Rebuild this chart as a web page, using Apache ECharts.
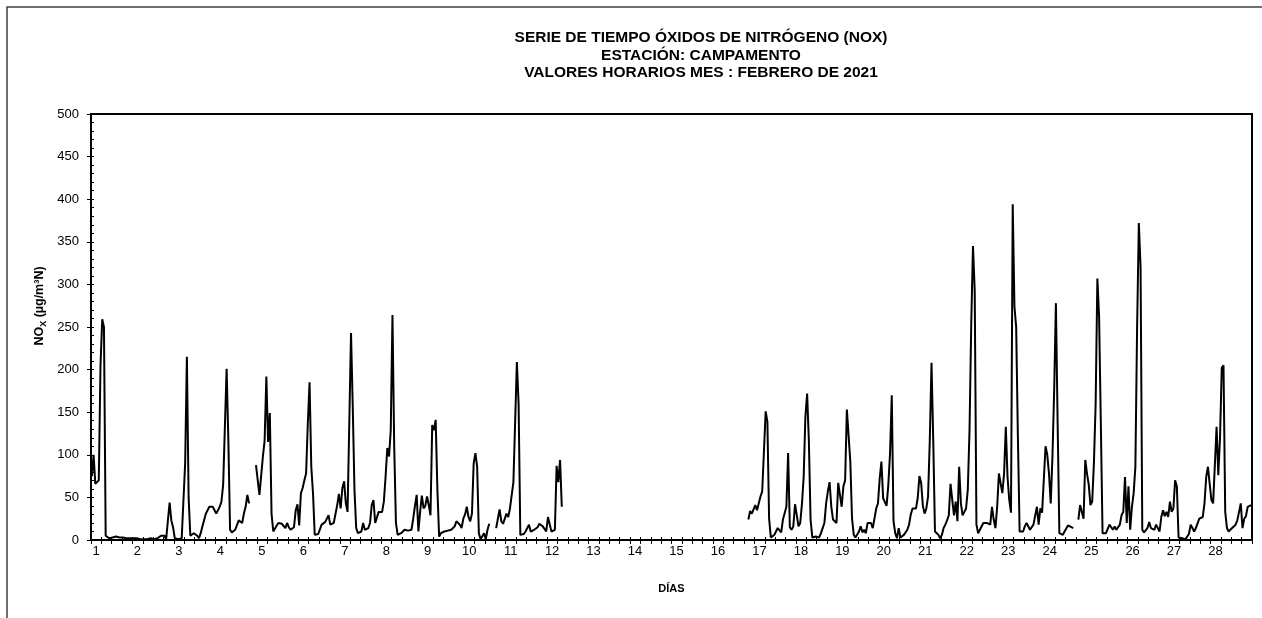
<!DOCTYPE html>
<html><head><meta charset="utf-8">
<script src="https://cdn.jsdelivr.net/npm/echarts@6/dist/echarts.min.js"></script>
<style>html,body{margin:0;padding:0;background:#fff}#c{width:1262px;height:618px}</style>
</head><body><div id="c"></div>
<script>
// ---- text ----
const titleLines = ['SERIE DE TIEMPO ÓXIDOS DE NITRÓGENO (NOX)', 'ESTACIÓN: CAMPAMENTO', 'VALORES HORARIOS MES : FEBRERO DE 2021'];
const xName = 'DÍAS';
const hoursPerDay = 24;
const nDays = 28;
const yTicks = [0, 50, 100, 150, 200, 250, 300, 350, 400, 450, 500];

// ---- hourly NOx values (µg/m³N), one array per day, hours 0..23 ----
const N = null;
const day01 = [75,100,66,65,70,205,259,250,5,3,2,4,3,2,4,3,3,2,3,2,2,3,2,2];
const day02 = [2,1,2,1,1,2,1,1,1,1,2,1,1,1,2,2,5,6,5,1,3,44,23,15];
const day03 = [2,1,1,1,2,3,90,215,50,5,3,8,6,5,2,8,16,17,31,30,39,37,39,35];
const day04 = [31,33,39,45,65,66,201,117,12,9,8,12,12,23,21,20,31,39,53,43,N,N,N,88];
const day05 = [88,53,51,98,117,192,115,149,31,10,11,17,20,19,19,17,14,20,15,12,10,15,35,42];
const day06 = [17,55,61,70,78,137,185,86,55,6,6,7,7,18,18,21,20,29,18,20,20,22,41,54];
const day07 = [37,61,69,43,33,137,243,157,59,14,8,6,10,20,12,13,14,20,41,47,20,20,33,33];
const day08 = [33,45,74,108,98,129,264,110,20,6,7,8,10,12,10,11,11,12,25,40,53,10,33,52];
const day09 = [37,40,51,41,29,135,129,141,59,4,8,9,10,11,11,12,12,14,16,22,24,18,14,25];
const day10 = [30,39,27,22,31,90,102,86,8,1,0,8,1,12,19,N,N,N,14,25,36,22,19,19];
const day11 = [31,27,37,37,68,67,209,160,6,4,7,10,10,18,10,12,12,12,15,19,18,16,14,10];
const day12 = [27,27,10,10,12,87,68,94,39,N,N,N,N,N,N,N,N,N,N,N,N,N,N,N];
const day13 = [N,N,N,N,N,N,N,N,N,N,N,N,N,N,N,N,N,N,N,N,N,N,N,N];
const day14 = [N,N,N,N,N,N,N,N,N,N,N,N,N,N,N,N,N,N,N,N,N,N,N,N];
const day15 = [N,N,N,N,N,N,N,N,N,N,N,N,N,N,N,N,N,N,N,N,N,N,N,N];
const day16 = [N,N,N,N,N,N,N,N,N,N,N,N,N,N,N,N,N,N,N,N,24,34,31,36];
const day17 = [41,35,36,51,57,59,151,139,25,3,3,6,8,14,12,9,24,25,39,102,15,12,16,42];
const day18 = [42,16,20,42,74,145,172,117,24,3,2,4,6,3,8,14,20,43,57,68,39,24,22,20];
const day19 = [67,66,39,63,70,153,151,92,25,6,3,5,10,16,9,12,8,20,22,20,14,12,37,43];
const day20 = [72,92,49,47,40,65,102,170,22,8,2,14,3,3,6,8,12,18,30,37,37,37,49,75];
const day21 = [67,40,31,37,51,117,208,117,10,8,6,2,6,14,18,23,29,66,66,29,45,22,86,43];
const day22 = [29,29,37,59,129,254,345,293,18,8,12,14,20,22,20,20,18,39,24,14,39,78,76,55];
const day23 = [78,133,74,47,32,394,274,250,121,10,8,10,16,20,18,12,14,18,20,39,18,37,32,33];
const day24 = [110,100,78,43,98,176,278,137,8,6,6,10,12,17,16,15,14,N,N,24,41,43,25,94];
const day25 = [78,65,41,45,90,160,307,262,137,8,6,8,6,18,16,12,16,12,12,18,29,33,74,20];
const day26 = [63,12,39,55,86,250,372,320,12,9,11,14,21,14,14,12,18,20,10,27,35,28,33,27];
const day27 = [45,33,37,70,63,3,2,2,1,1,2,7,18,14,10,14,16,25,25,27,43,74,86,66];
const day28 = [47,43,41,133,76,121,202,205,33,14,10,12,14,16,18,23,25,43,14,25,28,39,41,41];

const days = [day01,day02,day03,day04,day05,day06,day07,day08,day09,day10,day11,day12,day13,day14,
              day15,day16,day17,day18,day19,day20,day21,day22,day23,day24,day25,day26,day27,day28];
const hourly = [].concat(...days);
const seriesData = hourly.map((v, i) => [i + 0.5, v]);

const FONT = '"Liberation Sans", Arial, Helvetica, sans-serif';
const totalHours = hoursPerDay * nDays;

const chart = echarts.init(document.getElementById('c'), null, {renderer: 'canvas'});
chart.setOption({
  animation: false,
  backgroundColor: '#ffffff',
  grid: {left: 91, right: 10, top: 114, bottom: 78, show: true, borderColor: '#000', borderWidth: 2, backgroundColor: 'transparent'},
  xAxis: [{
    type: 'value', min: 0, max: totalHours, interval: 6,
    axisLine: {show: true, onZero: false, lineStyle: {color: '#000', width: 2}},
    axisTick: {show: true, length: 4, lineStyle: {color: '#000', width: 1}},
    axisLabel: {show: true, fontFamily: FONT, fontSize: 13, color: '#000', margin: 5, padding: [0, 0, 0, 10],
      formatter: v => (v % hoursPerDay === 0 && v < totalHours) ? String(v / hoursPerDay + 1) : ''},
    splitLine: {show: false},
    name: xName, nameLocation: 'middle', nameGap: 43,
    nameTextStyle: {fontFamily: FONT, fontWeight: 'bold', fontSize: 11, color: '#000'}
  }, {
    type: 'value', min: 0, max: totalHours, interval: 6, position: 'bottom',
    axisLine: {show: false}, axisTick: {show: true, inside: true, length: 3, lineStyle: {color: '#000', width: 1}},
    axisLabel: {show: false}, splitLine: {show: false}
  }],
  yAxis: [{
    type: 'value', min: yTicks[0], max: yTicks[yTicks.length - 1], interval: 50,
    axisLine: {show: true, onZero: false, lineStyle: {color: '#000', width: 2}},
    axisTick: {show: true, length: 4, lineStyle: {color: '#000', width: 1}},
    axisLabel: {show: true, fontFamily: FONT, fontSize: 13, color: '#000', margin: 12},
    splitLine: {show: false}
  }, {
    type: 'value', min: yTicks[0], max: yTicks[yTicks.length - 1], interval: 10, position: 'left',
    axisLine: {show: false}, axisTick: {show: true, inside: true, length: 3, lineStyle: {color: '#000', width: 1}},
    axisLabel: {show: false}, splitLine: {show: false}
  }],
  series: [{
    type: 'line', xAxisIndex: 0, yAxisIndex: 0, data: seriesData,
    symbol: 'none', showSymbol: false, connectNulls: false,
    lineStyle: {color: '#000', width: 2}, itemStyle: {color: '#000'}
  }],
  graphic: [
    {type: 'rect', silent: true, shape: {x: 7, y: 7, width: 1320, height: 700},
     style: {fill: 'none', stroke: '#404040', lineWidth: 1.5}},
    {type: 'text', x: 701, y: 38, style: {text: titleLines[0], fontFamily: FONT, fontWeight: 'bold', fontSize: 15.5, fill: '#000', textAlign: 'center', textVerticalAlign: 'middle'}},
    {type: 'text', x: 701, y: 56, style: {text: titleLines[1], fontFamily: FONT, fontWeight: 'bold', fontSize: 15.5, fill: '#000', textAlign: 'center', textVerticalAlign: 'middle'}},
    {type: 'text', x: 701, y: 73, style: {text: titleLines[2], fontFamily: FONT, fontWeight: 'bold', fontSize: 15.5, fill: '#000', textAlign: 'center', textVerticalAlign: 'middle'}},
    {type: 'text', x: 40, y: 306, rotation: Math.PI / 2,
     style: {text: '{a|NO}{b|X}{a| (µg/m³N)}', textAlign: 'center', textVerticalAlign: 'middle', fill: '#000',
       rich: {a: {fontFamily: FONT, fontWeight: 'bold', fontSize: 12.5, lineHeight: 16, verticalAlign: 'middle', fill: '#000'},
              b: {fontFamily: FONT, fontWeight: 'bold', fontSize: 9, lineHeight: 9, verticalAlign: 'bottom', fill: '#000'}}}}
  ]
});
</script>
</body></html>
